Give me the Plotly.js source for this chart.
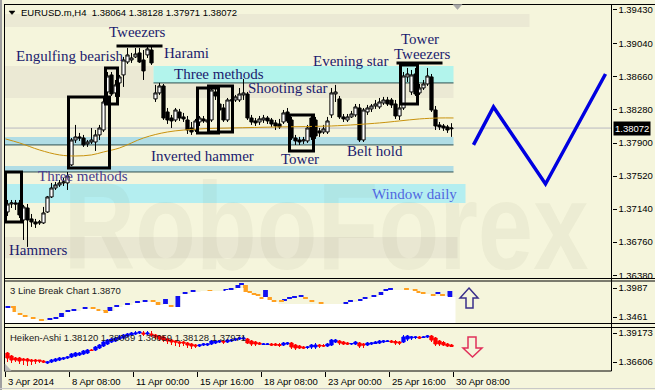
<!DOCTYPE html>
<html><head><meta charset="utf-8">
<script src="https://cdn.plot.ly/plotly-3.0.1.min.js"></script>
<style>html,body{margin:0;padding:0;background:#f5f5dc;}#chart{width:655px;height:390px;}</style>
</head><body><div id="chart"></div>
<script>
// ---------------- DATA ----------------
const mainOpen=[1.37107,1.37199,1.37211,1.37211,1.37015,1.37153,1.37027,1.36992,1.36981,1.36981,
1.37107,1.37280,1.37383,1.37418,1.37441,1.37441,1.37648,1.37935,1.37970,1.37958,
1.37889,1.37912,1.37912,1.37993,1.38050,1.38487,1.38683,1.38476,1.38591,1.38683,
1.38832,1.38855,1.38890,1.38936,1.38855,1.38913,1.38970,1.38407,1.38476,1.38556,
1.38257,1.38188,1.38165,1.38257,1.38200,1.38165,1.38073,1.38050,1.38142,1.38177,
1.38142,1.38165,1.38487,1.38349,1.38303,1.38165,1.38384,1.38395,1.38395,1.38453,
1.38464,1.38188,1.38154,1.38142,1.38165,1.38188,1.38165,1.38131,1.38119,1.38142,
1.38257,1.38165,1.37958,1.37935,1.37924,1.37924,1.38188,1.38165,1.38039,1.38027,
1.38027,1.38223,1.38464,1.38407,1.38200,1.38165,1.38200,1.38223,1.38303,1.37935,
1.38257,1.38292,1.38326,1.38315,1.38361,1.38395,1.38395,1.38349,1.38211,1.38303,
1.38660,1.38487,1.38694,1.38476,1.38533,1.38579,1.38660,1.38280,1.38108,1.38096,
1.38085,1.38064];
const mainHigh=[1.37245,1.37245,1.37245,1.37245,1.37188,1.37199,1.37084,1.37027,1.37015,1.37165,
1.37291,1.37441,1.37452,1.37475,1.37498,1.37567,1.37958,1.38108,1.38016,1.37993,
1.37935,1.38073,1.38050,1.38108,1.38418,1.38717,1.38717,1.38625,1.38683,1.38890,
1.38993,1.38936,1.38993,1.38993,1.38970,1.39005,1.39005,1.38568,1.38591,1.38579,
1.38303,1.38223,1.38303,1.38292,1.38246,1.38211,1.38142,1.38177,1.38211,1.38211,
1.38188,1.38533,1.38533,1.38395,1.38349,1.38418,1.38430,1.38453,1.38533,1.38637,
1.38487,1.38223,1.38188,1.38211,1.38223,1.38211,1.38188,1.38165,1.38177,1.38280,
1.38303,1.38200,1.37993,1.37970,1.37970,1.38108,1.38234,1.38200,1.38073,1.38108,
1.38200,1.38533,1.38568,1.38441,1.38234,1.38234,1.38269,1.38349,1.38349,1.38303,
1.38338,1.38349,1.38395,1.38418,1.38430,1.38430,1.38418,1.38395,1.38361,1.38717,
1.38763,1.38740,1.38763,1.38579,1.38625,1.38763,1.38694,1.38326,1.38142,1.38119,
1.38108,1.38128];
const mainLow=[1.37061,1.37153,1.37130,1.37038,1.36785,1.36705,1.36935,1.36923,1.36958,1.36969,
1.37096,1.37268,1.37360,1.37395,1.37406,1.37360,1.37636,1.37901,1.37924,1.37855,
1.37855,1.37889,1.37809,1.37935,1.38027,1.38349,1.38441,1.38430,1.38430,1.38545,
1.38809,1.38821,1.38878,1.38821,1.38625,1.38878,1.38798,1.38372,1.38453,1.38165,
1.38119,1.38073,1.38142,1.38154,1.38142,1.38004,1.37993,1.38027,1.38096,1.38131,
1.38073,1.38142,1.38395,1.38246,1.38142,1.38142,1.38349,1.38372,1.38372,1.38395,
1.38165,1.38108,1.38096,1.38108,1.38131,1.38119,1.38085,1.38050,1.38062,1.38119,
1.38131,1.37935,1.37878,1.37878,1.37889,1.37901,1.37935,1.37947,1.37970,1.38004,
1.38004,1.38188,1.38372,1.38177,1.38142,1.38142,1.38188,1.38200,1.37912,1.37912,
1.38223,1.38257,1.38292,1.38292,1.38338,1.38326,1.38303,1.38177,1.38165,1.38280,
1.38602,1.38453,1.38441,1.38453,1.38510,1.38556,1.38257,1.38050,1.38050,1.38039,
1.38016,1.37971];
const mainClose=[1.37199,1.37211,1.37199,1.37073,1.37165,1.37015,1.36992,1.36969,1.36992,1.37096,
1.37280,1.37383,1.37418,1.37441,1.37452,1.37521,1.37935,1.37970,1.37958,1.37878,
1.37912,1.37935,1.37993,1.38073,1.38372,1.38671,1.38464,1.38568,1.38660,1.38855,
1.38913,1.38878,1.38924,1.38832,1.38729,1.38982,1.38821,1.38476,1.38556,1.38188,
1.38165,1.38154,1.38280,1.38188,1.38177,1.38050,1.38027,1.38154,1.38188,1.38154,
1.38165,1.38510,1.38441,1.38280,1.38165,1.38395,1.38395,1.38430,1.38464,1.38476,
1.38188,1.38142,1.38131,1.38177,1.38188,1.38154,1.38119,1.38096,1.38085,1.38246,
1.38154,1.37958,1.37924,1.37912,1.37935,1.38073,1.37970,1.37981,1.38016,1.38062,
1.38154,1.38476,1.38487,1.38200,1.38177,1.38200,1.38234,1.38315,1.37935,1.38280,
1.38303,1.38326,1.38349,1.38372,1.38395,1.38349,1.38338,1.38211,1.38303,1.38671,
1.38694,1.38683,1.38464,1.38533,1.38579,1.38671,1.38280,1.38096,1.38085,1.38073,
1.38050,1.38072];

// moving average, read at selected bars
const maBar=[-0.5,3,8,13,17,21,24,28,34,40,48,56,68,81,93,98,103,108,111.5];
const maVal=[1.37947,1.37901,1.37820,1.37763,1.37751,1.37763,1.37797,1.37843,1.37958,1.38027,1.38062,1.38073,1.38085,1.38096,1.38131,1.38154,1.38177,1.38188,1.38188];

// forecast zig-zag
const fcBar=[116.5,121.5,134.5,149.5];
const fcVal=[1.37878,1.38315,1.37429,1.38694];

// 3 Line Break blocks
const lbBar=[0.1,1.5,3.1,4.4,6.4,8.5,10.6,12.1,13.5,15.1,16.6,19.4,21.4,22.6,24.5,25.6,27.3,30,32.5,34.4,36.4,37.6,39.5,40.9,41.75,42.6,44.4,46.4,50.6,53.6,54.6,55.9,57.6,58.5,59.5,60.5,61.6,62.6,63.5,64.5,65.5,66.6,68.5,69.25,70.5,71.75,73.4,74.5,76.1,78.4,84.6,85.75,88.25,89.4,91.6,93.4,94.6,95.75,99.75,101.9,102.6,103.9,106.4,107.6,108.75,110.6];
const lbTop=[1.36605,1.36605,1.35335,1.34972,1.34609,1.34247,1.34428,1.34609,1.35335,1.35879,
1.36061,1.36423,1.36423,1.36061,1.35879,1.36423,1.36786,1.37149,1.37512,1.37693,
1.37693,1.37330,1.37875,1.36786,1.36423,1.38419,1.39144,1.39507,1.39507,1.39326,
1.39689,1.39870,1.40414,1.40777,1.40414,1.39326,1.38963,1.38782,1.38237,1.39507,
1.38237,1.37693,1.37693,1.37875,1.38237,1.38419,1.38600,1.38237,1.37693,1.37330,
1.37330,1.37693,1.37875,1.38237,1.38600,1.39144,1.39689,1.39870,1.39870,1.39689,
1.39326,1.39144,1.38782,1.39144,1.38782,1.39326];
const lbBottom=[1.36242,1.35516,1.34972,1.34609,1.34247,1.33884,1.34065,1.34247,1.34609,1.35516,
1.35698,1.36061,1.36061,1.35698,1.35335,1.35698,1.36423,1.36786,1.37149,1.37330,
1.37330,1.36786,1.36968,1.36423,1.36242,1.36423,1.38782,1.39144,1.39144,1.38963,
1.39326,1.39507,1.39870,1.40414,1.39144,1.38963,1.38600,1.38419,1.37875,1.38237,
1.37693,1.37330,1.37330,1.37512,1.37875,1.38056,1.38237,1.37875,1.37330,1.36968,
1.36968,1.37330,1.37512,1.37875,1.38237,1.38600,1.39326,1.39507,1.39507,1.39326,
1.38963,1.38782,1.38419,1.38782,1.38419,1.38237];
const lbDir=['u','d','d','d','d','d','u','u','u','u','u','u','d','d','d','u','u','u','u','u',
'd','d','u','d','d','u','u','u','d','d','u','u','u','u','d','d','d','d','d','u',
'd','d','d','u','u','u','u','d','d','d','u','u','u','u','u','u','u','u','d','d',
'd','d','d','u','d','u'];
// white area profile of the 3 Line Break panel
const lbAreaBar=[-0.75,1.25,2.5,3.75,5.75,7.75,10,11.5,13,14.5,15.75,18.25,20.75,22.25,24,25.25,26.75,28.75,31.25,33.5,35.75,37,39,40.25,42.25,43.25,45.75,48.25,54.5,57.25,59,60,61,62,63,64,65,66,67.75,84,85.25,87.5,88.75,91,92.75,94,95.25,99.25,101.25,102.25,103.25,105.75,108.25,110,112];
const lbAreaVal=[1.36242,1.35516,1.34972,1.34609,1.34247,1.33884,1.34065,1.34247,1.34609,1.35516,1.35698,1.36061,1.36061,1.35698,1.35335,1.35698,1.36423,1.36786,1.37149,1.37330,1.37330,1.36786,1.36968,1.36423,1.36423,1.38782,1.39144,1.39326,1.39507,1.39870,1.39144,1.38963,1.38600,1.38419,1.37875,1.38237,1.37693,1.37330,1.36968,1.36968,1.37330,1.37512,1.37875,1.38237,1.38600,1.39326,1.39507,1.39507,1.39326,1.38963,1.38782,1.38419,1.38419,1.38237,1.38237];

// Heiken-Ashi
const haOpen=[1.37403,1.37138,1.36961,1.36961,1.36872,1.36872,1.36784,1.36784,1.36784,1.36695,
1.36518,1.36607,1.36695,1.36784,1.36872,1.36961,1.37049,1.37138,1.37226,1.37315,
1.37403,1.37669,1.37669,1.37846,1.38023,1.38200,1.38377,1.38465,1.38642,1.38731,
1.38908,1.38996,1.39085,1.39173,1.39173,1.39085,1.39085,1.38996,1.38908,1.38819,
1.38642,1.38554,1.38465,1.38377,1.38377,1.38288,1.38200,1.38111,1.38023,1.38111,
1.38111,1.38200,1.38288,1.38377,1.38465,1.38377,1.38465,1.38554,1.38642,1.38642,
1.38642,1.38465,1.38377,1.38288,1.38156,1.38156,1.38200,1.38200,1.38156,1.38111,
1.38200,1.38288,1.38111,1.38023,1.37934,1.37890,1.37934,1.37934,1.38111,1.38067,
1.38023,1.38111,1.38377,1.38465,1.38377,1.38288,1.38200,1.38200,1.38288,1.38200,
1.38111,1.38200,1.38244,1.38288,1.38377,1.38421,1.38465,1.38421,1.38377,1.38377,
1.38642,1.38731,1.38775,1.38819,1.38775,1.38819,1.38908,1.38731,1.38465,1.38333,
1.38200,1.38111];
const haHigh=[1.37492,1.37226,1.37049,1.37049,1.36961,1.36961,1.36872,1.36872,1.36784,1.36784,
1.36695,1.36872,1.36961,1.37049,1.37049,1.37138,1.37403,1.37492,1.37492,1.37669,
1.37757,1.37757,1.38023,1.38200,1.38465,1.38642,1.38731,1.38819,1.38996,1.39085,
1.39173,1.39262,1.39350,1.39350,1.39350,1.39350,1.39350,1.39085,1.38996,1.38908,
1.38731,1.38642,1.38554,1.38465,1.38465,1.38377,1.38288,1.38200,1.38200,1.38288,
1.38288,1.38554,1.38554,1.38554,1.38554,1.38642,1.38642,1.38731,1.38819,1.38908,
1.38731,1.38554,1.38465,1.38377,1.38288,1.38288,1.38288,1.38288,1.38288,1.38377,
1.38377,1.38377,1.38200,1.38111,1.38023,1.38023,1.38200,1.38288,1.38200,1.38200,
1.38288,1.38642,1.38642,1.38554,1.38465,1.38377,1.38288,1.38465,1.38377,1.38288,
1.38377,1.38377,1.38465,1.38554,1.38554,1.38554,1.38554,1.38554,1.38465,1.38996,
1.38996,1.38908,1.38908,1.38908,1.38908,1.38996,1.38996,1.38819,1.38554,1.38465,
1.38288,1.38200];
const haLow=[1.36607,1.36518,1.36607,1.36430,1.36341,1.36253,1.36341,1.36430,1.36518,1.36518,
1.36430,1.36518,1.36607,1.36695,1.36784,1.36872,1.36961,1.37049,1.37138,1.37226,
1.37315,1.37580,1.37580,1.37757,1.37934,1.38111,1.38288,1.38377,1.38554,1.38642,
1.38819,1.38908,1.38996,1.39085,1.38908,1.38996,1.38819,1.38642,1.38465,1.38377,
1.38200,1.38111,1.38023,1.37934,1.38023,1.37846,1.37757,1.37846,1.37934,1.38023,
1.38023,1.38111,1.38200,1.38288,1.38200,1.38288,1.38377,1.38465,1.38554,1.38554,
1.38200,1.38023,1.38023,1.38111,1.38111,1.38111,1.38023,1.38023,1.37934,1.38023,
1.38111,1.37757,1.37669,1.37757,1.37757,1.37757,1.37757,1.37757,1.37846,1.37934,
1.37934,1.38023,1.38288,1.38111,1.38111,1.38111,1.38111,1.38111,1.37846,1.37846,
1.38023,1.38111,1.38200,1.38200,1.38288,1.38377,1.38288,1.38111,1.38111,1.38288,
1.38465,1.38554,1.38642,1.38642,1.38731,1.38731,1.38377,1.38023,1.38023,1.38023,
1.37934,1.37934];
const haClose=[1.36961,1.36784,1.36784,1.36695,1.36784,1.36695,1.36695,1.36695,1.36695,1.36607,
1.36607,1.36784,1.36872,1.36961,1.36961,1.37049,1.37315,1.37403,1.37403,1.37580,
1.37669,1.37625,1.37934,1.38111,1.38377,1.38554,1.38642,1.38731,1.38819,1.38996,
1.39085,1.39173,1.39173,1.39262,1.39085,1.39173,1.38996,1.38819,1.38642,1.38554,
1.38465,1.38377,1.38377,1.38288,1.38288,1.38111,1.38023,1.38023,1.38111,1.38200,
1.38200,1.38465,1.38465,1.38465,1.38377,1.38554,1.38554,1.38642,1.38731,1.38731,
1.38288,1.38200,1.38200,1.38200,1.38200,1.38200,1.38111,1.38111,1.38067,1.38288,
1.38288,1.37934,1.37846,1.37846,1.37846,1.37934,1.38111,1.38111,1.38023,1.38023,
1.38200,1.38554,1.38554,1.38288,1.38200,1.38200,1.38244,1.38377,1.38023,1.38111,
1.38288,1.38288,1.38377,1.38465,1.38465,1.38465,1.38377,1.38288,1.38288,1.38819,
1.38908,1.38819,1.38819,1.38731,1.38819,1.38908,1.38554,1.38200,1.38200,1.38111,
1.38023,1.37979];

// axis ticks
const mainTicks=[1.39430,1.39040,1.38660,1.38280,1.37900,1.37520,1.37140,1.36760,1.36380];
const lbTicks=[1.3987,1.3461];
const haTicks=[1.39173,1.36606];
const timeTickBar=[-0.5,15.5,31.5,47.5,63.5,79.5,95.5,111.5];
const timeTickText=['3 Apr 2014','8 Apr 08:00','11 Apr 00:00','15 Apr 16:00','18 Apr 08:00','23 Apr 00:00','25 Apr 16:00','30 Apr 08:00'];
const lastPrice=1.38072;

// ---------------- DRAWING ----------------
const W=655,H=390;
const px=x=>x/W, py=y=>1-y/H;
const BG='#f5f5dc';
const SANS='Liberation Sans, Arial, sans-serif';
const SERIF='Liberation Serif, Times New Roman, serif';
const bars=mainOpen.map((_,i)=>i);

const traces=[];
traces.push({type:'scatter',mode:'lines',x:maBar,y:maVal,xaxis:'x',yaxis:'y',
  line:{color:'#c8920e',width:1,shape:'spline'},hoverinfo:'skip'});
traces.push({type:'candlestick',x:bars,open:mainOpen,high:mainHigh,low:mainLow,close:mainClose,
  xaxis:'x',yaxis:'y',whiskerwidth:0,
  increasing:{line:{color:'#000000',width:1},fillcolor:'#ffffff'},
  decreasing:{line:{color:'#000000',width:1},fillcolor:'#000000'}});
traces.push({type:'scatter',mode:'lines',x:fcBar,y:fcVal,xaxis:'x',yaxis:'y',
  line:{color:'#0000e0',width:3.5}});
// 3 line break
traces.push({type:'scatter',mode:'lines',x:lbAreaBar,y:lbAreaVal,xaxis:'x2',yaxis:'y2',
  line:{width:0,shape:'hv'},fill:'tozeroy',fillcolor:'#ffffff'});
['u','d'].forEach(d=>{
  const ix=lbDir.map((v,i)=>v===d?i:-1).filter(i=>i>=0);
  traces.push({type:'bar',xaxis:'x2',yaxis:'y2',width:1.2,
    x:ix.map(i=>lbBar[i]),base:ix.map(i=>lbBottom[i]),y:ix.map(i=>lbTop[i]-lbBottom[i]),
    marker:{color:d==='u'?'#1010f0':'#ffa020',line:{width:0}}});
});
// heiken ashi
traces.push({type:'candlestick',x:bars,open:haOpen,high:haHigh,low:haLow,close:haClose,
  xaxis:'x3',yaxis:'y3',whiskerwidth:0,
  increasing:{line:{color:'#0000ff',width:1},fillcolor:'#0000ff'},
  decreasing:{line:{color:'#ff0000',width:1},fillcolor:'#ff0000'}});

const xBase={range:[-0.75,151],domain:[px(4.5),px(611.5)],showgrid:false,zeroline:false,
  showticklabels:false,showline:false,fixedrange:true,rangeslider:{visible:false}};
const yBase={side:'right',showgrid:false,zeroline:false,showline:false,ticks:'outside',ticklen:4,
  tickcolor:'#000',tickmode:'array',tickfont:{family:SANS,size:9.5,color:'#000'},fixedrange:true};

const shapes=[];
const band=(x0,x1,y0,y1,c)=>shapes.push({type:'rect',xref:'x',yref:'y',x0,x1,y0,y1,fillcolor:c,line:{width:0},layer:'below'});
const hl=(x0,x1,y,c,w)=>shapes.push({type:'line',xref:'x',yref:'y',x0,x1,y0:y,y1:y,line:{color:c,width:w},layer:'below'});
const DB='#ebe9d4';
band(-0.75,130.5,1.39235,1.39384,DB);
band(-0.75,36.5,1.38591,1.38786,DB);
band(36.5,111.5,1.38591,1.38786,'#b2f4ec');
band(-0.75,111.5,1.38418,1.38591,DB);
band(-0.75,111.5,1.37878,1.37970,'#b0dde5');
band(-0.75,111.5,1.37567,1.37636,'#b0dde5');
band(-0.75,114.5,1.37211,1.37429,'#b4eef0');
band(-0.75,112.5,1.36575,1.36820,'#e9e7d2');
hl(36.5,111.5,1.38591,'#2f4f4f',1);
hl(-0.75,111.5,1.37878,'#2f4f4f',1);
hl(-0.75,111.5,1.37567,'#2f4f4f',1);
hl(-0.75,151,lastPrice,'#b8b8c0',1);

// pattern boxes
const boxes=[[-0.5,3.5,1.36992,1.37567],[15.25,25.5,1.37613,1.38430],[24.5,27.5,1.38349,1.38763],
 [47.5,52.75,1.38016,1.38533],[50.25,56.25,1.38027,1.38556],[70.5,76.5,1.37809,1.38223],[98.25,102.5,1.38349,1.38798]];
boxes.forEach(b=>shapes.push({type:'rect',xref:'x',yref:'y',x0:b[0],x1:b[1],y0:b[2],y1:b[3],line:{color:'#000',width:3},fillcolor:'rgba(0,0,0,0)'}));
[[27.25,38.75,1.39016],[97.25,108.75,1.38821]].forEach(l=>shapes.push({type:'line',xref:'x',yref:'y',x0:l[0],x1:l[1],y0:l[2],y1:l[2],line:{color:'#000',width:3}}));

// frames
const pl=(x0,y0,x1,y1,c,w)=>shapes.push({type:'line',xref:'paper',yref:'paper',x0:px(x0),x1:px(x1),y0:py(y0),y1:py(y1),line:{color:c,width:w}});
[4.5,278.5,281,323.5,327.5].forEach(y=>pl(4,y,655,y,'#000',1));
pl(4,371,611.5,371,'#000',1);
pl(4.5,4.5,4.5,371,'#000',1);
pl(611.5,4.5,611.5,371,'#000',1);
pl(1,0,1,390,'#a0a0a0',2);
pl(0,388.5,655,388.5,'#c8c8c8',1);
const path=(pts,fill,line,lw)=>shapes.push({type:'path',xref:'paper',yref:'paper',
  path:'M'+pts.map(p=>px(p[0])+','+py(p[1])).join('L')+'Z',fillcolor:fill,line:{color:line,width:lw}});
path([[9,11],[15,11],[12,14.5]],'#000','#000',0.5);
path([[453,4.5],[462,4.5],[457.5,9.5]],'#a8a8a8','#a8a8a8',0.5);
path([[5,364],[5,370.5],[11,370.5]],'#b8b8b8','#b8b8b8',0.5);
path([[469,288],[478,298],[473,298],[473,308],[466,308],[466,298],[460,298]],'rgba(0,0,0,0)','#3a2f8a',1.5);
path([[468,337],[476,337],[476,348],[482,348],[472.5,357],[463,348],[468,348]],'rgba(0,0,0,0)','#e0305a',1.5);

// annotations
const ann=[];
const txt=(t,x,y,anchor,color,size,fam)=>ann.push({text:t,xref:'paper',yref:'paper',x:px(x),y:py(y),
  xanchor:anchor,yanchor:'middle',showarrow:false,font:{family:fam||SERIF,size:size||15,color:color||'#1b1b6e'}});
txt('Tweezers',107,32,'left');
txt('Engulfing bearish',14,56,'left');
txt('Harami',162,53,'left');
txt('Three methods',172,73.5,'left');
txt('Shooting star',246,88.5,'left');
txt('Evening star',311,60.5,'left');
txt('Tower',399,39,'left');
txt('Tweezers',392,54.5,'left');
txt('Inverted hammer',149,155.5,'left');
txt('Tower',279,159,'left');
txt('Belt hold',345,151,'left');
txt('Three methods',36,176.5,'left','#463c8c');
txt('Window daily',459,193.5,'right','#5068e0');
txt('Hammers',6.5,250,'left');
txt('EURUSD.m,H4\u00a0\u00a01.38064 1.38128 1.37971 1.38072',19,12.5,'left','#000',9.5,SANS);
txt('3 Line Break Chart 1.3870',8,290,'left','#1a1a1a',9.5,SANS);
txt('Heiken-Ashi 1.38120 1.38089 1.38059 1.38128 1.37971',8,337,'left','#1a1a1a',9.5,SANS);
timeTickBar.forEach((b,i)=>ann.push({text:timeTickText[i],xref:'x3',yref:'paper',x:b,y:py(381),
  xanchor:'left',yanchor:'middle',showarrow:false,font:{family:SANS,size:9.5,color:'#000'}}));
ann.push({text:lastPrice.toFixed(5),xref:'paper',yref:'y',x:px(612.5),y:lastPrice,xanchor:'left',yanchor:'middle',
  showarrow:false,bgcolor:'#000',borderpad:1,font:{family:SANS,size:9.5,color:'#fff'}});

// watermark
const wm='data:image/svg+xml;charset=utf-8,'+encodeURIComponent(
 '<svg xmlns="http://www.w3.org/2000/svg" width="545" height="110" viewBox="0 0 545 110">'+
 '<text x="8" y="104" font-family="Liberation Sans, Arial" font-weight="bold" font-size="124" textLength="525" lengthAdjust="spacingAndGlyphs" fill="rgba(110,105,60,0.06)">RoboForex</text></svg>');

const layout={width:W,height:H,margin:{l:0,r:0,t:0,b:0},paper_bgcolor:BG,plot_bgcolor:BG,
  showlegend:false,hovermode:false,barmode:'overlay',boxgap:0.2,boxgroupgap:0,
  xaxis:Object.assign({},xBase,{anchor:'y'}),
  xaxis2:Object.assign({},xBase,{anchor:'y2'}),
  xaxis3:Object.assign({},xBase,{anchor:'y3',ticks:'outside',ticklen:5,tickcolor:'#000',tickmode:'array',tickvals:timeTickBar}),
  yaxis:Object.assign({},yBase,{anchor:'x',domain:[py(278.5),py(4.5)],range:[1.36342,1.39493],
    tickvals:mainTicks,ticktext:mainTicks.map(v=>v.toFixed(5))}),
  yaxis2:Object.assign({},yBase,{anchor:'x2',domain:[py(323.5),py(281)],range:[1.33430,1.41140],
    tickvals:lbTicks,ticktext:lbTicks.map(v=>v.toFixed(4))}),
  yaxis3:Object.assign({},yBase,{anchor:'x3',domain:[py(371),py(327.5)],range:[1.35810,1.39660],
    tickvals:haTicks,ticktext:haTicks.map(v=>v.toFixed(5))}),
  shapes:shapes,annotations:ann,
  images:[{source:wm,xref:'x',yref:'y',x:12,y:1.37648,sizex:136.25,sizey:0.01265,sizing:'stretch',layer:'below',xanchor:'left',yanchor:'top'}]
};
Plotly.newPlot('chart',traces,layout,{staticPlot:true,displayModeBar:false});
</script></body></html>
